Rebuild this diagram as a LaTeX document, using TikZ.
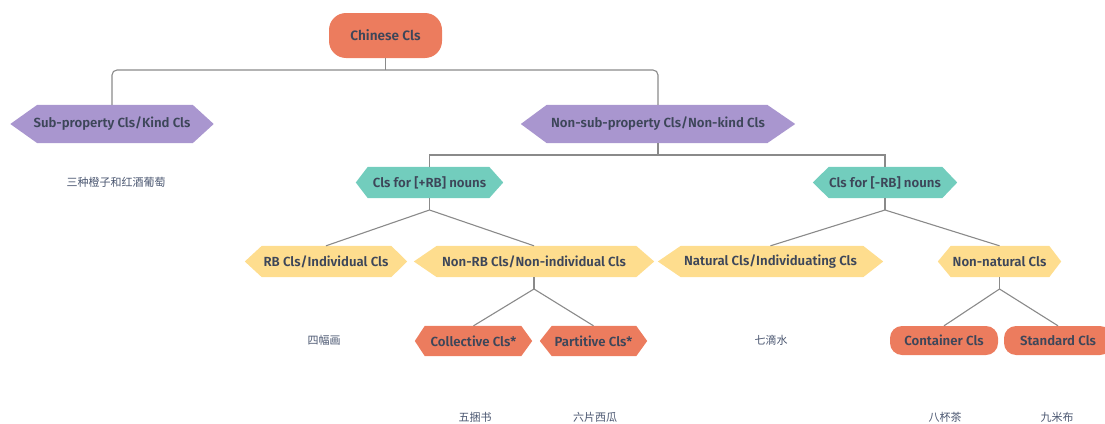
\documentclass[tikz,border=0pt]{standalone}
\usepackage{fontspec}
\newfontfamily\labfont{Fira Sans}[UprightFont={* SemiBold}]
\newfontfamily\cjk{Noto Sans CJK SC}
\usetikzlibrary{backgrounds}
\definecolor{corange}{HTML}{EC7C5E}
\definecolor{cpurple}{HTML}{A996CF}
\definecolor{cteal}{HTML}{72CDBD}
\definecolor{cyellow}{HTML}{FEDD8E}
\definecolor{ctext}{HTML}{3D4659}
\definecolor{cex}{HTML}{4A5670}
\definecolor{cline}{HTML}{8A8A8A}
\newcommand\hexfill[4]{\fill[#4] ([xshift=#2]#1.north west) -- ([xshift=-#3]#1.north east) -- (#1.east) -- ([xshift=-#3]#1.south east) -- ([xshift=#2]#1.south west) -- (#1.west) -- cycle;}
\tikzset{
  lab/.style={text=ctext, font=\labfont\fontsize{13.2}{15}\selectfont},
  hexbox/.style={lab, rectangle, inner sep=0pt, minimum width=#1},
  big/.style={minimum height=38pt},
  mid/.style={minimum height=31pt},
  small/.style={minimum height=30pt},
  pill/.style={lab, rectangle, fill=corange, inner sep=0pt},
  ex/.style={text=cex, font=\cjk\fontsize{11}{13}\selectfont, inner sep=0pt},
  conn/.style={draw=cline, line width=1.1pt},
}
\begin{document}
\begin{tikzpicture}[x=1pt, y=-1pt]
\useasboundingbox (0,0) rectangle (1105,423);
\clip (0,0) rectangle (1105,423);
% level 0
\node[pill, minimum width=113pt, minimum height=45pt, rounded corners=17pt, font=\labfont\fontsize{13.6}{15}\selectfont] (root) at (385.5,35.5) {Chinese Cls};
% level 1
\node[hexbox=203pt, big] (sub) at (112,124) {Sub-property Cls/Kind Cls};
\node[hexbox=274pt, big] (nonsub) at (658,124) {Non-sub-property Cls/Non-kind Cls};
% level 2
\node[hexbox=147pt, mid] (plusrb) at (429.5,182.5) {Cls for [+RB] nouns};
\node[hexbox=144pt, mid] (minusrb) at (885,182.5) {Cls for [-RB] nouns};
% level 3
\node[hexbox=162pt, mid] (rbind) at (326,261.5) {RB Cls/Individual Cls};
\node[hexbox=240pt, mid] (nonrb) at (534,261.5) {Non-RB Cls/Non-individual Cls};
\node[hexbox=225pt, mid] (natural) at (770.5,261.5) {Natural Cls/Individuating Cls};
\node[hexbox=123pt, mid] (nonnat) at (999.5,261.5) {Non-natural Cls};
% level 4
\node[hexbox=117pt, small] (coll) at (473.5,341) {Collective Cls*};
\node[hexbox=107pt, small] (part) at (593.5,341) {Partitive Cls*};
\node[pill, minimum width=108pt, minimum height=29pt, rounded corners=12pt] (cont) at (944,340.5) {Container Cls};
\node[pill, minimum width=108pt, minimum height=29pt, rounded corners=12pt] (stand) at (1058,340.5) {Standard Cls};
% examples
\node[ex] (ex1) at (116,182) {三种橙子和红酒葡萄};
\node[ex] (ex2) at (324,340) {四幅画};
\node[ex] (ex3) at (475,417) {五捆书};
\node[ex] (ex4) at (595,417) {六片西瓜};
\node[ex] (ex5) at (771,340) {七滴水};
\node[ex] (ex6) at (945,417) {八杯茶};
\node[ex] (ex7) at (1057,417) {九米布};
% junctions
\coordinate (j1) at (385.5,70);
\coordinate (j2) at (658,155);
\coordinate (j3) at (429.5,210);
\coordinate (j4) at (885,210);
\coordinate (j5) at (534,289);
\coordinate (j6) at (999.5,289);
% connectors
\draw[conn] (root.south) -- (j1);
\draw[conn, rounded corners=5pt] (sub.north) |- (j1) -| (nonsub.north);
\draw[conn] (nonsub.south) -- (j2);
\draw[conn] (plusrb.north) |- (j2) -| (minusrb.north);
\draw[conn] (plusrb.south) -- (j3);
\draw[conn] (j3) -- (rbind.north);
\draw[conn] (j3) -- (nonrb.north);
\draw[conn] (minusrb.south) -- (j4);
\draw[conn] (j4) -- (natural.north);
\draw[conn] (j4) -- (nonnat.north);
\draw[conn] (nonrb.south) -- (j5);
\draw[conn] (j5) -- (coll.north);
\draw[conn] (j5) -- (part.north);
\draw[conn] (nonnat.south) -- (j6);
\draw[conn] (j6) -- (cont.north);
\draw[conn] (j6) -- (stand.north);
% hexagon fills
\begin{scope}[on background layer]
\hexfill{sub}{27pt}{21pt}{cpurple}
\hexfill{nonsub}{26pt}{28pt}{cpurple}
\hexfill{plusrb}{12pt}{14pt}{cteal}
\hexfill{minusrb}{16pt}{15pt}{cteal}
\hexfill{rbind}{17pt}{16pt}{cyellow}
\hexfill{nonrb}{23pt}{18pt}{cyellow}
\hexfill{natural}{23pt}{20pt}{cyellow}
\hexfill{nonnat}{13pt}{12pt}{cyellow}
\hexfill{coll}{10pt}{11pt}{corange}
\hexfill{part}{12pt}{11pt}{corange}
\end{scope}
\end{tikzpicture}
\end{document}
